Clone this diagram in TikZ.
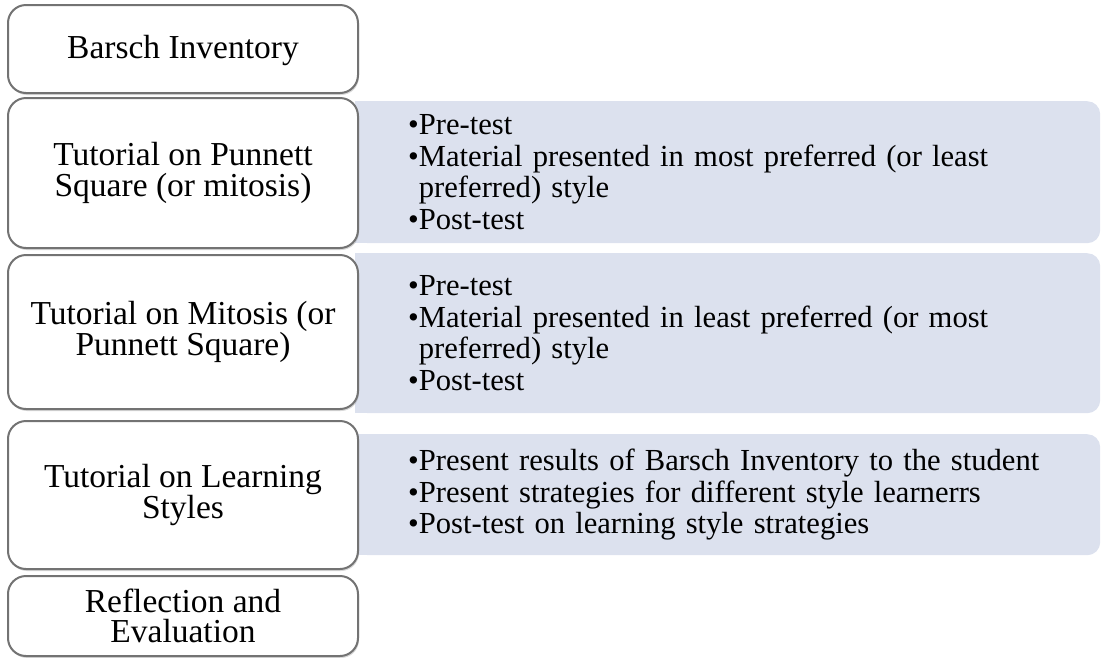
\documentclass[tikz,border=0pt]{standalone}
\usepackage{fontspec}
\setmainfont{Liberation Serif}
\usetikzlibrary{positioning,shadows}
\definecolor{panelblue}{RGB}{220,225,238}
\definecolor{edgegray}{RGB}{115,115,115}
\begin{document}
\begin{tikzpicture}[x=1pt,y=-1pt,
	stepbox/.style={draw=edgegray, line width=2pt, fill=white, rounded corners=18pt,
		minimum width=350pt, align=center, anchor=north west,
		font=\fontsize{33.5}{30.5}\selectfont,
		drop shadow={shadow xshift=1pt, shadow yshift=-2pt, opacity=0.3}},
	panel/.style={fill=panelblue, rounded corners=13pt, inner xsep=53pt, inner ysep=0pt,
		text width=639pt, align=left, anchor=north west,
		font=\fontsize{30.6}{31.6}\selectfont}]
\useasboundingbox (0,0) rectangle (1102,657);

% detail panels
\node[panel, minimum height=142pt] (pone) at (355,101) {%
	•Pre-test\\
	•Material presented in most preferred (or least\\
	\phantom{•}preferred) style\\
	•Post-test};
\node[panel, minimum height=160pt] (ptwo) at (355,253) {%
	•Pre-test\\
	•Material presented in least preferred (or most\\
	\phantom{•}preferred) style\\
	•Post-test};
\node[panel, minimum height=121pt] (pthree) at (355,434) {%
	•Present results of Barsch Inventory to the student\\
	•Present strategies for different style learnerrs\\
	•Post-test on learning style strategies};
\foreach \p in {pone,ptwo,pthree}
	\fill[panelblue] (\p.north west) rectangle ([xshift=40pt]\p.south west);

% steps
\node[stepbox, minimum height=88pt, text depth=4pt] (barsch) at (7,4) {Barsch Inventory};
\node[stepbox, minimum height=150pt] (punnett) at (7,97) {Tutorial on Punnett\\Square (or mitosis)};
\node[stepbox, minimum height=154pt] (mitosis) at (7,254) {Tutorial on Mitosis (or\\Punnett Square)};
\node[stepbox, minimum height=148pt] (styles) at (7,420) {Tutorial on Learning\\Styles};
\node[stepbox, minimum height=80pt] (reflect) at (7,575) {Reflection and\\Evaluation};
\end{tikzpicture}
\end{document}
